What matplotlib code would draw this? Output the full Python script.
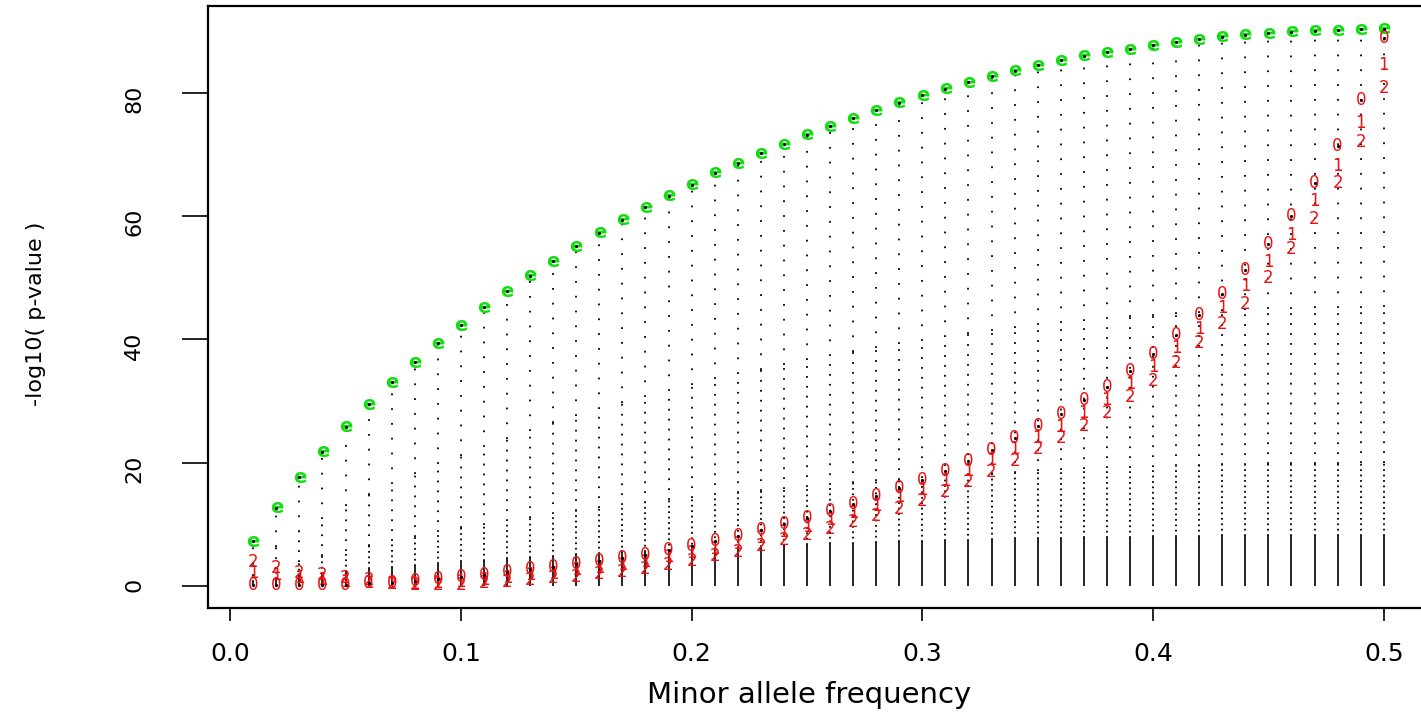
import matplotlib.pyplot as plt
import numpy as np

# minor allele frequency (x categories)
maf = [0.01, 0.02, 0.03, 0.04, 0.05, 0.06, 0.07, 0.08, 0.09, 0.10,
       0.11, 0.12, 0.13, 0.14, 0.15, 0.16, 0.17, 0.18, 0.19, 0.20,
       0.21, 0.22, 0.23, 0.24, 0.25, 0.26, 0.27, 0.28, 0.29, 0.30,
       0.31, 0.32, 0.33, 0.34, 0.35, 0.36, 0.37, 0.38, 0.39, 0.40,
       0.41, 0.42, 0.43, 0.44, 0.45, 0.46, 0.47, 0.48, 0.49, 0.50]

# green "e" points (upper envelope)
top_e = [7.2, 12.7, 17.6, 21.8, 25.8, 29.5, 33.0, 36.3, 39.4, 42.3,
         45.2, 47.8, 50.3, 52.7, 55.1, 57.3, 59.4, 61.4, 63.3, 65.1,
         67.0, 68.6, 70.2, 71.7, 73.2, 74.6, 75.9, 77.2, 78.4, 79.6,
         80.7, 81.7, 82.7, 83.6, 84.5, 85.3, 86.0, 86.6, 87.1, 87.7,
         88.2, 88.7, 89.1, 89.4, 89.7, 89.9, 90.1, 90.2, 90.3, 90.4]

# red labels "0", "1", "2"
p0 = [0.1, 0.1, 0.1, 0.1, 0.2, 0.4, 0.5, 0.8, 1.1, 1.4,
      1.8, 2.3, 2.8, 3.1, 3.6, 4.0, 4.5, 5.0, 5.8, 6.5,
      7.3, 8.1, 9.0, 10.0, 11.0, 12.2, 13.3, 14.5, 15.9, 17.1,
      18.7, 20.3, 22.1, 24.0, 25.9, 27.9, 30.1, 32.2, 34.9, 37.6,
      40.7, 44.0, 47.4, 51.3, 55.5, 60.0, 65.3, 71.4, 78.8, 88.9]
p1 = [2.1, 1.8, 1.3, 1.0, 0.7, 0.5, 0.3, 0.3, 0.4, 0.6,
      0.9, 1.3, 1.7, 2.0, 2.5, 2.9, 3.4, 3.9, 4.6, 5.3,
      6.0, 6.8, 7.7, 8.7, 9.6, 10.7, 11.8, 12.9, 14.4, 15.5,
      17.0, 18.6, 20.4, 22.2, 24.0, 25.7, 28.0, 30.2, 32.8, 35.5,
      38.6, 41.6, 45.1, 48.6, 52.6, 56.9, 62.4, 68.2, 75.1, 84.5]
p2 = [3.9, 2.9, 2.1, 1.7, 1.3, 1.0, 0.3, 0.1, 0.1, 0.2,
      0.4, 0.6, 0.9, 1.2, 1.5, 1.9, 2.3, 2.8, 3.4, 4.1,
      4.8, 5.5, 6.4, 7.4, 8.3, 9.3, 10.3, 11.4, 12.5, 13.8,
      15.3, 16.8, 18.5, 20.3, 22.2, 24.0, 25.9, 28.0, 30.6, 33.2,
      36.2, 39.4, 42.5, 45.8, 50.0, 54.6, 59.5, 65.3, 72.0, 80.8]

xticks = [0.0, 0.1, 0.2, 0.3, 0.4, 0.5]
yticks = [0, 20, 40, 60, 80]

fig = plt.figure(figsize=(14.21, 7.28), dpi=100)
ax = fig.add_axes([0.1464, 0.1648, 0.8592, 0.827])

x = np.array(maf)
top = np.array(top_e)

# dotted columns under each point, getting denser towards zero
ax.vlines(x, 0, top * 0.09, colors='k', lw=1.2, zorder=1)
ax.vlines(x, top * 0.09, top * 0.22, colors='k', lw=1.3, linestyles=(0, (1, 2.0)), zorder=1)
ax.vlines(x, top * 0.22, top * 0.5, colors='k', lw=1.3, linestyles=(0, (1, 4.5)), zorder=1)
ax.vlines(x, top * 0.5, top, colors='k', lw=1.3, linestyles=(0, (1, 7.2)), zorder=1)
ax.plot(x, top, 'k.', ms=2.5, zorder=3)
ax.plot(x, p0, 'k.', ms=2.5, zorder=3)

for xi, yi in zip(maf, top_e):
    ax.text(xi, yi, 'e', color='#11dd11', fontsize=14, fontweight='bold',
            ha='center', va='center', zorder=2)
for lab, ser in (('0', p0), ('1', p1), ('2', p2)):
    for xi, yi in zip(maf, ser):
        ax.text(xi, yi, lab, color='#ee1111', fontsize=12,
                ha='center', va='center', zorder=2)

ax.set_xlim(-0.0096, 0.5196)
ax.set_ylim(-3.6, 94.1)
ax.set_xticks(xticks)
ax.set_xticklabels(['%.1f' % t for t in xticks])
ax.set_yticks(yticks)
for s in ax.spines.values():
    s.set_linewidth(1.6)
ax.tick_params(axis='x', length=9.5, width=1.2, pad=15, labelsize=18)
ax.tick_params(axis='y', length=19, width=1.2, pad=27, labelsize=16, labelrotation=90)

ax.set_xlabel('Minor allele frequency', fontsize=21)
ax.xaxis.set_label_coords(0.492, -0.121)
ax.set_ylabel('-log10( p-value )', fontsize=16)
ax.yaxis.set_label_coords(-0.133, 0.488)

fig.savefig('out.png', dpi=100)
